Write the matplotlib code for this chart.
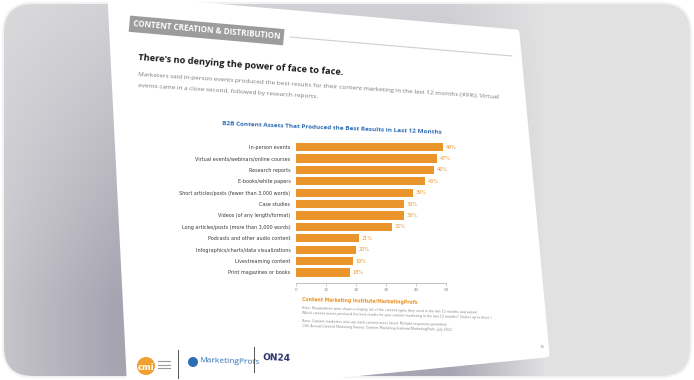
import numpy as np
import matplotlib.pyplot as plt
from matplotlib.patches import FancyBboxPatch, Polygon, Circle

# data
categories = [
    "In-person events",
    "Virtual events/webinars/online courses",
    "Research reports",
    "E-books/white papers",
    "Short articles/posts (fewer than 3,000 words)",
    "Case studies",
    "Videos (of any length/format)",
    "Long articles/posts (more than 3,000 words)",
    "Podcasts and other audio content",
    "Infographics/charts/data visualizations",
    "Livestreaming content",
    "Print magazines or books",
]
values = [49, 47, 46, 43, 39, 36, 36, 32, 21, 20, 19, 18]
x_ticks = [0, 10, 20, 30, 40, 50]

W, H = 694, 380
ORANGE = "#e9952b"
BLUE = "#2f6db3"

fig = plt.figure(figsize=(6.94, 3.8), dpi=100, facecolor="white")

# background layer in pixel coordinates (y down)
bg = fig.add_axes([0, 0, 1, 1])
bg.set_xlim(0, W)
bg.set_ylim(H, 0)
bg.axis("off")

xx = np.linspace(0, W, 347)
yy = np.linspace(0, H, 190)
X, Y = np.meshgrid(xx, yy)
sx = np.interp(X, [0, 115, 450, 545], [0.45, 1, 1, 0])
sy = np.interp(Y, [0, 300], [0.25, 1])
d = sx * sy
light = np.array([225, 225, 226]) / 255
dark = np.array([166, 164, 177]) / 255
img = light + d[..., None] * (dark - light)

frame = FancyBboxPatch((3, 3), 688, 374, boxstyle="round,pad=0,rounding_size=30",
                       fc="none", ec="#f2f2f2", lw=1.5, zorder=0.5)
bg.add_patch(frame)
im = bg.imshow(img, extent=[0, W, H, 0], aspect="auto", zorder=0)
im.set_clip_path(frame)

# the tilted page
page = Polygon([(111, -2), (516, 33), (546, 354), (131, 395)], closed=True,
               fc="white", ec="white", lw=5, joinstyle="round", zorder=1)
bg.add_patch(page)

# header tag and rule
bg.text(133, 24, "CONTENT CREATION & DISTRIBUTION", fontsize=5.8, fontweight="bold",
        family="Open Sans", color="white", rotation=-5, rotation_mode="anchor",
        va="center", ha="left", zorder=3,
        bbox=dict(boxstyle="square,pad=0.45", fc="#9c9c9c", ec="none"))
bg.plot([290, 512], [37, 56], color="#cfcfcf", lw=0.8, zorder=2)

bg.text(138, 58, "There's no denying the power of face to face.", fontsize=6.7,
        fontweight="bold", family="Open Sans", color="#1a1a1a", rotation=-4.2,
        rotation_mode="anchor", va="center", ha="left", zorder=3)
bg.text(138, 75, "Marketers said in-person events produced the best results for their content "
        "marketing in the last 12 months (49%). Virtual", fontsize=4.6, family="Open Sans",
        color="#7a7a7a", rotation=-3.6, rotation_mode="anchor", va="center", ha="left", zorder=3)
bg.text(138, 86, "events came in a close second, followed by research reports.", fontsize=4.6,
        family="Open Sans", color="#7a7a7a", rotation=-3.6, rotation_mode="anchor",
        va="center", ha="left", zorder=3)

bg.text(332, 128, "B2B Content Assets That Produced the Best Results in Last 12 Months",
        fontsize=4.6, fontweight="bold", family="Open Sans", color=BLUE, rotation=-2.3,
        rotation_mode="anchor", va="center", ha="center", zorder=3)

# notes under the chart
bg.text(302, 300, "Content Marketing Institute/MarketingProfs", fontsize=3.3,
        fontweight="bold", color=ORANGE, rotation=-1.5, rotation_mode="anchor",
        va="center", ha="left", zorder=3)
notes = [
    (308, "Note: Respondents were shown a display list of the content types they used in the last 12 months and asked:"),
    (313, "Which content assets produced the best results for your content marketing in the last 12 months? (Select up to three.)"),
    (321, "Base: Content marketers who use each content asset listed. Multiple responses permitted."),
    (326, "13th Annual Content Marketing Survey: Content Marketing Institute/MarketingProfs, July 2022"),
]
for y, line in notes:
    bg.text(302, y, line, fontsize=2.3, color="#8a8a8a", rotation=-1.5,
            rotation_mode="anchor", va="center", ha="left", zorder=3)

bg.text(542, 347, "15", fontsize=3, color="#9a9a9a", ha="center", va="center", zorder=3)

# sponsor logos
bg.add_patch(Circle((146, 366), 9, fc="#f0a030", ec="none", zorder=3))
bg.text(146, 367, "cmi", fontsize=6, fontweight="bold", color="white",
        ha="center", va="center", zorder=4)
for i in range(3):
    bg.plot([158, 170], [361 + i * 3.5, 361 + i * 3.5], color="#9a9a9a", lw=0.8, zorder=3)
bg.plot([178, 178], [350, 378], color="#555555", lw=0.7, zorder=3)
bg.add_patch(Circle((193, 362), 5, fc="#2d6db5", ec="none", zorder=3))
bg.text(199, 362, "MarketingProfs", fontsize=6, color="#2d6db5", family="Open Sans",
        ha="left", va="center", rotation=-2, zorder=3)
bg.plot([254, 254], [347, 372], color="#555555", lw=0.7, zorder=3)
bg.text(262, 358, "ON24", fontsize=6.5, fontweight="bold", color="#2a2f6b",
        ha="left", va="center", rotation=-2, zorder=3)

# bar chart
ax = fig.add_axes([296 / W, 1 - 283 / H, 150 / W, 142 / H])
ax.set_facecolor("none")
pos = np.arange(len(categories))
bars = ax.barh(pos, values, height=0.72, color=ORANGE, zorder=2)
for b, v in zip(bars, values):
    ax.text(v + 0.8, b.get_y() + b.get_height() / 2, f"{v}%", fontsize=3.5,
            color=ORANGE, va="center", ha="left")
ax.set_xlim(0, 50)
ax.set_ylim(11.93, -0.53)
ax.set_yticks(pos)
ax.set_yticklabels(categories, fontsize=3.5, color="#3a3a3a")
ax.tick_params(axis="y", length=0, pad=4)
ax.set_xticks(x_ticks)
ax.set_xticklabels([str(t) for t in x_ticks], fontsize=3, color="#888888")
ax.tick_params(axis="x", length=2, width=0.4, color="#aaaaaa", pad=1.5)
for s in ["top", "right", "left"]:
    ax.spines[s].set_visible(False)
ax.spines["bottom"].set_color("#aaaaaa")
ax.spines["bottom"].set_linewidth(0.5)

fig.savefig("out.png", dpi=100, facecolor="white")
